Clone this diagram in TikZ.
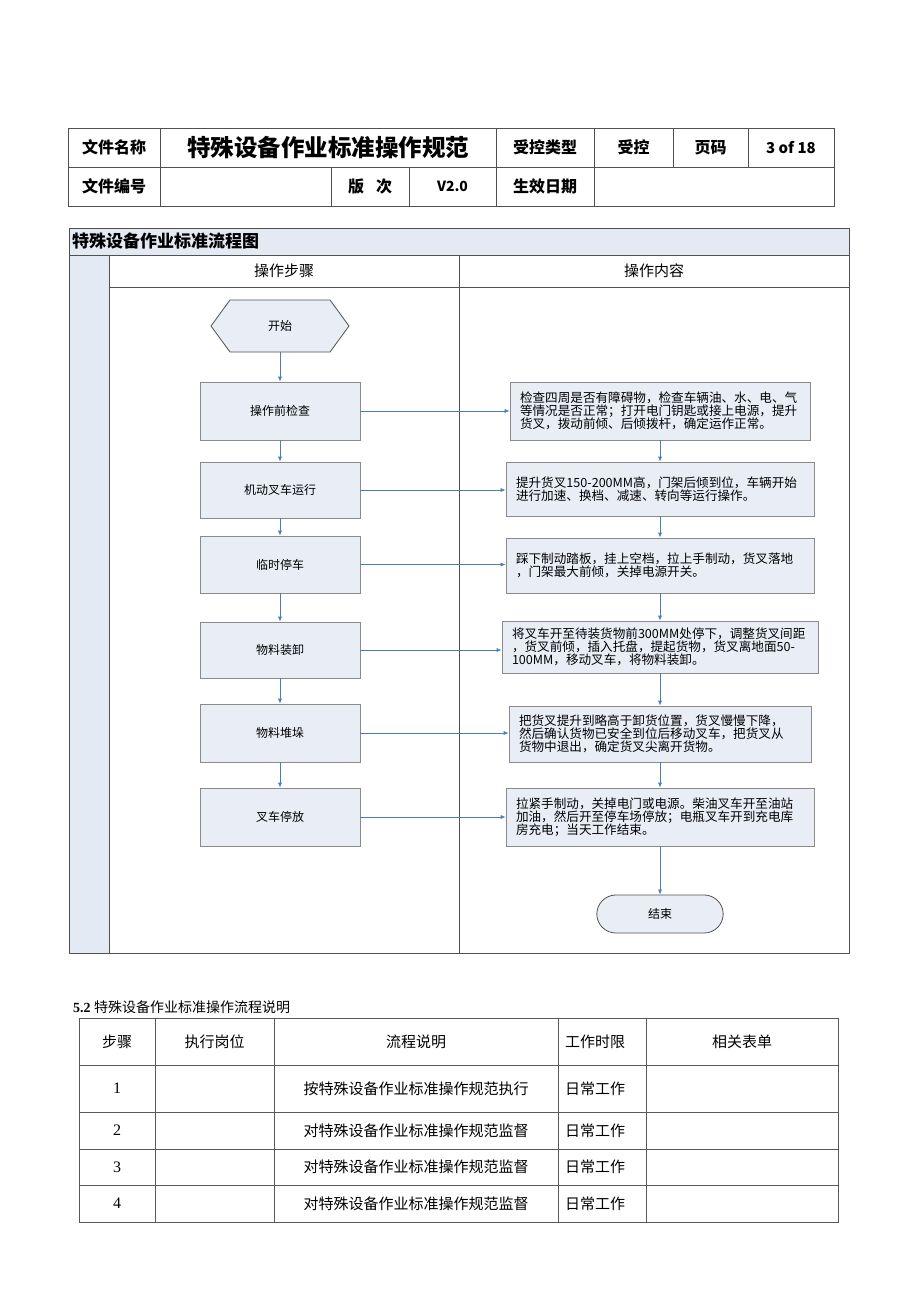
\documentclass[tikz,border=0pt]{standalone}
\usepackage{fontspec}
\setmainfont{Liberation Serif}
\newfontfamily\cjk{Noto Sans CJK SC}
\usetikzlibrary{positioning,arrows.meta,shapes.misc}

\definecolor{boxfill}{HTML}{E9EEF6}
\definecolor{bandfill}{HTML}{E4EAF4}
\definecolor{boxline}{HTML}{8A8A8A}
\definecolor{flowblue}{HTML}{4A7EBB}
\definecolor{frameline}{HTML}{505050}

\begin{document}
\begin{tikzpicture}[x=1pt,y=-1pt,
  cell/.style={draw=frameline,line width=0.8pt,minimum height=39pt,inner sep=0pt,font=\cjk\fontsize{16}{16}\selectfont\bfseries},
  stepbox/.style={draw=boxline,fill=boxfill,line width=0.6pt,minimum width=160pt,inner sep=0pt,font=\cjk\fontsize{12}{14}\selectfont},
  textbox/.style={draw=boxline,fill=boxfill,line width=0.6pt,inner sep=0pt,align=left,font=\cjk\fontsize{12.6}{12.8}\selectfont},
  flow/.style={draw=flowblue,line width=0.7pt,-{Latex[length=5pt,width=4pt]}},
  tcell/.style={draw=gray!70!black,line width=0.6pt,inner sep=0pt,font=\cjk\fontsize{15}{15}\selectfont}]
\useasboundingbox (0,0) rectangle (920,1301);

% document header
\node[cell,minimum width=92pt]  (hname)  at (114,147.5)   {文件名称};
\node[cell,minimum width=336pt,font=\cjk\fontsize{23.5}{24}\selectfont\bfseries] (htitle) at (328,147.5) {特殊设备作业标准操作规范};
\node[cell,minimum width=98pt]  (hctype) at (545,147.5)   {受控类型};
\node[cell,minimum width=79pt]  (hctrl)  at (633.5,147.5) {受控};
\node[cell,minimum width=75pt]  (hpage)  at (710.5,147.5) {页码};
\node[cell,minimum width=86pt,font=\cjk\fontsize{15}{15}\selectfont\bfseries]  (hpnum)  at (791,147.5)   {3 of 18};
\node[cell,minimum width=92pt]  (hcode)  at (114,186.5)   {文件编号};
\node[cell,minimum width=171pt] (hcodev) at (245.5,186.5) {};
\node[cell,minimum width=78pt]  (hver)   at (370,186.5)   {版\hspace{12pt}次};
\node[cell,minimum width=87pt,font=\cjk\fontsize{14}{14}\selectfont\bfseries]  (hverv)  at (452.5,186.5) {V2.0};
\node[cell,minimum width=98pt]  (hdate)  at (545,186.5)   {生效日期};
\node[cell,minimum width=240pt] (hdatev) at (714,186.5)   {};

% flow chart frame
\fill[bandfill] (69,228) rectangle (849,255);
\fill[bandfill] (69,255) rectangle (109,953);
\draw[frameline,line width=1pt] (69,228) rectangle (849,953);
\draw[frameline,line width=0.8pt] (69,255) -- (849,255);
\draw[frameline,line width=0.8pt] (109,255) -- (109,953);
\draw[frameline,line width=0.8pt] (459,255) -- (459,953);
\draw[frameline,line width=0.8pt] (109,287) -- (849,287);
\node[anchor=west,inner sep=0pt,font=\cjk\fontsize{17}{17}\selectfont\bfseries] (ftitle) at (72,241.5) {特殊设备作业标准流程图};
\node[font=\cjk\fontsize{15}{15}\selectfont] (colstep) at (284,271) {操作步骤};
\node[font=\cjk\fontsize{15}{15}\selectfont] (colcont) at (654,271) {操作内容};

% start
\draw[frameline,fill=boxfill,line width=0.8pt] (211,326) -- (230,300) -- (330,300) -- (349,326) -- (330,352) -- (230,352) -- cycle;
\node[font=\cjk\fontsize{12}{14}\selectfont,minimum height=52pt] (start) at (280,326) {开始};

% steps
\node[stepbox,minimum height=58pt] (s1) at (280,411)   {操作前检查};
\node[stepbox,minimum height=56pt] (s2) at (280,490)   {机动叉车运行};
\node[stepbox,minimum height=57pt] (s3) at (280,564.5) {临时停车};
\node[stepbox,minimum height=56pt] (s4) at (280,650)   {物料装卸};
\node[stepbox,minimum height=58pt] (s5) at (280,733)   {物料堆垛};
\node[stepbox,minimum height=58pt] (s6) at (280,817)   {叉车停放};

% contents
\node[textbox,minimum width=300pt,minimum height=58pt,text width=280pt] (c1) at (660,411) {检查四周是否有障碍物，检查车辆油、水、电、气\\等情况是否正常；打开电门钥匙或接上电源，提升\\货叉，拨动前倾、后倾拨杆，确定运作正常。};
\node[textbox,minimum width=308pt,minimum height=54pt,text width=288pt] (c2) at (660,489) {提升货叉150-200MM高，门架后倾到位，车辆开始\\进行加速、换档、减速、转向等运行操作。\\[6pt]};
\node[textbox,minimum width=308pt,minimum height=55pt,text width=288pt] (c3) at (660,565.5) {踩下制动踏板，挂上空档，拉上手制动，货叉落地\\，门架最大前倾，关掉电源开关。};
\node[textbox,minimum width=316pt,minimum height=52pt,text width=296pt] (c4) at (660,647) {将叉车开至待装货物前300MM处停下，调整货叉间距\\，货叉前倾，插入托盘，提起货物，货叉离地面50-\\100MM，移动叉车，将物料装卸。};
\node[textbox,minimum width=302pt,minimum height=56pt,text width=282pt] (c5) at (660,734) {把货叉提升到略高于卸货位置，货叉慢慢下降，\\然后确认货物已安全到位后移动叉车，把货叉从\\货物中退出，确定货叉尖离开货物。};
\node[textbox,minimum width=308pt,minimum height=58pt,text width=288pt] (c6) at (660,817) {拉紧手制动，关掉电门或电源。柴油叉车开至油站\\加油，然后开至停车场停放；电瓶叉车开到充电库\\房充电；当天工作结束。};
\node[draw=frameline,fill=boxfill,line width=0.8pt,rounded rectangle,minimum width=133pt,minimum height=38pt,font=\cjk\fontsize{12}{14}\selectfont] (stop) at (660,914) {结束};

% connectors
\draw[flow] (start.south) -- (s1.north);
\foreach \a/\b in {s1/s2,s2/s3,s3/s4,s4/s5,s5/s6,c1/c2,c2/c3,c3/c4,c4/c5,c5/c6,c6/stop}
  \draw[flow] (\a.south) -- (\b.north);
\foreach \i in {1,...,6}
  \draw[flow] (s\i.east) -- (s\i.east -| c\i.west);

% process description table
\node[anchor=west,inner sep=0pt,font=\fontsize{14}{14}\selectfont] (tcap) at (73,1007) {\textbf{5.2} {\cjk 特殊设备作业标准操作流程说明}};
\node[tcell,minimum width=76pt,minimum height=47pt]  (t0a) at (117,1041.5)   {步骤};
\node[tcell,minimum width=119pt,minimum height=47pt] (t0b) at (214.5,1041.5) {执行岗位};
\node[tcell,minimum width=284pt,minimum height=47pt] (t0c) at (416,1041.5)   {流程说明};
\node[tcell,minimum width=88pt,minimum height=47pt]  (t0d) at (602,1041.5)   {\hspace{-14pt}工作时限};
\node[tcell,minimum width=192pt,minimum height=47pt] (t0e) at (742,1041.5)   {相关表单};
\foreach \r/\y/\h/\txt in {1/1088.5/47/按特殊设备作业标准操作规范执行,
                         2/1130.5/37/对特殊设备作业标准操作规范监督,
                         3/1167/36/对特殊设备作业标准操作规范监督,
                         4/1203.5/37/对特殊设备作业标准操作规范监督}{
  \node[tcell,minimum width=76pt,minimum height=\h pt,font=\fontsize{16}{16}\selectfont]  (t\r a) at (117,\y)   {\r};
  \node[tcell,minimum width=119pt,minimum height=\h pt] (t\r b) at (214.5,\y) {};
  \node[tcell,minimum width=284pt,minimum height=\h pt] (t\r c) at (416,\y)   {\txt};
  \node[tcell,minimum width=88pt,minimum height=\h pt]  (t\r d) at (602,\y)   {\hspace{-14pt}日常工作};
  \node[tcell,minimum width=192pt,minimum height=\h pt] (t\r e) at (742,\y)   {};
}
\end{tikzpicture}
\end{document}
